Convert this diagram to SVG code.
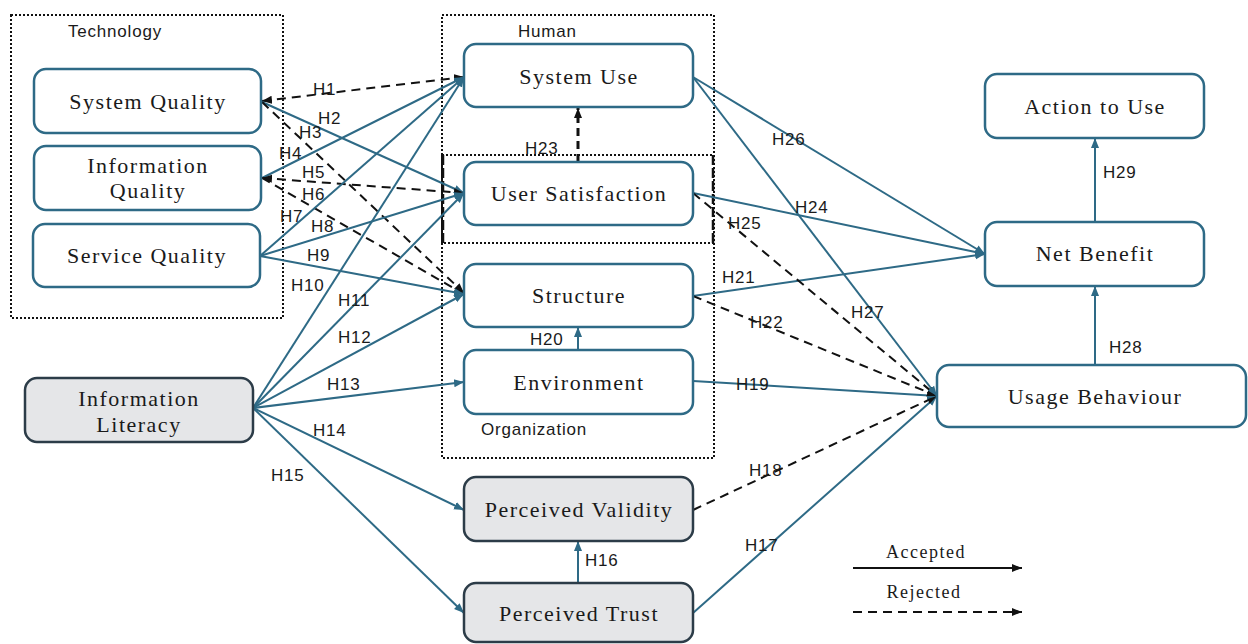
<svg xmlns="http://www.w3.org/2000/svg" width="1248" height="644" viewBox="0 0 1248 644">
<style>
.grp{fill:none;stroke:#111;stroke-width:2;stroke-dasharray:2 2}
.grpx{fill:none;stroke:#111;stroke-width:2.5;stroke-dasharray:10 3}
.nd{fill:#fff;stroke:#2e6a86;stroke-width:2.5}
.gy{fill:#e5e6e8;stroke:#2c3c48;stroke-width:2.5}
.nt{font-family:"Liberation Serif","Times New Roman",serif;font-size:22px;letter-spacing:1.5px;fill:#1a1a1a;text-anchor:middle}
.gl{font-family:"Liberation Sans",Arial,sans-serif;font-size:17px;letter-spacing:0.8px;fill:#1a1a1a}
.el{font-family:"Liberation Sans",Arial,sans-serif;font-size:17px;letter-spacing:0.8px;fill:#1a1a1a}
.lg{font-family:"Liberation Serif","Times New Roman",serif;font-size:18px;letter-spacing:1.5px;fill:#1a1a1a;text-anchor:middle}
.s{fill:none;stroke:#2e6a86;stroke-width:2;marker-end:url(#aT)}
.d{fill:none;stroke:#111;stroke-width:2;stroke-dasharray:9 6;marker-end:url(#aK)}
</style>
<defs>
<marker id="aT" viewBox="0 0 10 10" refX="10" refY="5" markerWidth="10" markerHeight="10" markerUnits="userSpaceOnUse" orient="auto-start-reverse"><path d="M0,1 L10,5 L0,9 z" fill="#2e6a86"/></marker>
<marker id="aK" viewBox="0 0 10 10" refX="10" refY="5" markerWidth="10" markerHeight="10" markerUnits="userSpaceOnUse" orient="auto-start-reverse"><path d="M0,1 L10,5 L0,9 z" fill="#111"/></marker>
</defs>
<rect width="1248" height="644" fill="#fff"/>

<g id="groups">
<rect class="grp" x="11" y="15" width="272" height="303"/>
<text class="gl" x="68" y="37">Technology</text>
<rect class="grp" x="442" y="15" width="272" height="228"/>
<text class="gl" x="518" y="37">Human</text>
<rect class="grp" x="442" y="155" width="272" height="303"/>
<line class="grpx" x1="443" y1="155" x2="443" y2="243"/>
<line class="grpx" x1="713" y1="155" x2="713" y2="243"/>
<text class="gl" x="481" y="435">Organization</text>
</g>

<g id="connectors">
<path class="d" d="M262,101 L464,77" marker-start="url(#aK)"/>
<path class="s" d="M262,102 L464,193"/>
<path class="d" d="M262,102 L464,293"/>
<path class="s" d="M262,178 L464,77"/>
<path class="d" d="M262,178 L464,193" marker-start="url(#aK)"/>
<path class="d" d="M262,178 L464,294"/>
<path class="s" d="M260,256 L464,77"/>
<path class="s" d="M260,256 L464,193"/>
<path class="s" d="M260,256 L464,294"/>
<path class="s" d="M253,408 L464,77"/>
<path class="s" d="M253,408 L464,193"/>
<path class="s" d="M253,408 L464,294"/>
<path class="s" d="M253,408 L464,382"/>
<path class="s" d="M253,408 L464,510"/>
<path class="s" d="M253,408 L464,613"/>
<path class="s" d="M578,583 L578,541"/>
<path class="s" d="M693,613 L937,396"/>
<path class="d" d="M693,510 L937,396"/>
<path class="s" d="M693,381 L937,396"/>
<path class="s" d="M578,350 L578,327"/>
<path class="s" d="M693,296 L985,254"/>
<path class="d" d="M693,296 L937,396"/>
<path class="d" d="M578,162 L578,108" style="stroke-width:3;stroke-dasharray:8 5"/>
<path class="s" d="M693,193 L985,254"/>
<path class="d" d="M693,193 L937,396"/>
<path class="s" d="M693,77 L985,254"/>
<path class="s" d="M693,77 L937,396"/>
<path class="s" d="M1095,365 L1095,286"/>
<path class="s" d="M1095,222 L1095,138"/>
</g>

<g id="edge-labels">
<text class="el" x="313" y="95">H1</text>
<text class="el" x="318" y="124">H2</text>
<text class="el" x="299" y="138">H3</text>
<text class="el" x="279" y="159">H4</text>
<text class="el" x="302" y="178">H5</text>
<text class="el" x="302" y="200">H6</text>
<text class="el" x="280" y="222">H7</text>
<text class="el" x="311" y="232">H8</text>
<text class="el" x="307" y="261">H9</text>
<text class="el" x="291" y="291">H10</text>
<text class="el" x="338" y="306">H11</text>
<text class="el" x="338" y="343">H12</text>
<text class="el" x="327" y="390">H13</text>
<text class="el" x="313" y="436">H14</text>
<text class="el" x="271" y="481">H15</text>
<text class="el" x="585" y="566">H16</text>
<text class="el" x="745" y="551">H17</text>
<text class="el" x="749" y="476">H18</text>
<text class="el" x="736" y="390">H19</text>
<text class="el" x="530" y="345">H20</text>
<text class="el" x="722" y="283">H21</text>
<text class="el" x="750" y="328">H22</text>
<text class="el" x="525" y="154">H23</text>
<text class="el" x="795" y="213">H24</text>
<text class="el" x="728" y="229">H25</text>
<text class="el" x="772" y="145">H26</text>
<text class="el" x="851" y="318">H27</text>
<text class="el" x="1109" y="353">H28</text>
<text class="el" x="1103" y="178">H29</text>
</g>

<g id="system-quality"><rect class="nd" x="34" y="69" width="227" height="64" rx="12"/><text class="nt" x="148" y="109">System Quality</text></g>
<g id="information-quality"><rect class="nd" x="34" y="146" width="227" height="64" rx="12"/><text class="nt" x="148" y="173">Information</text><text class="nt" x="148" y="198">Quality</text></g>
<g id="service-quality"><rect class="nd" x="33" y="224" width="227" height="63" rx="12"/><text class="nt" x="147" y="263">Service Quality</text></g>
<g id="information-literacy"><rect class="gy" x="25" y="378" width="228" height="64" rx="12"/><text class="nt" x="139" y="406">Information</text><text class="nt" x="139" y="432">Literacy</text></g>
<g id="system-use"><rect class="nd" x="464" y="44" width="229" height="63" rx="12"/><text class="nt" x="579" y="84">System Use</text></g>
<g id="user-satisfaction"><rect class="nd" x="464" y="162" width="229" height="63" rx="12"/><text class="nt" x="579" y="201">User Satisfaction</text></g>
<g id="structure"><rect class="nd" x="464" y="264" width="229" height="63" rx="12"/><text class="nt" x="579" y="303">Structure</text></g>
<g id="environment"><rect class="nd" x="464" y="350" width="229" height="64" rx="12"/><text class="nt" x="579" y="390">Environment</text></g>
<g id="perceived-validity"><rect class="gy" x="464" y="477" width="229" height="64" rx="12"/><text class="nt" x="579" y="517">Perceived Validity</text></g>
<g id="perceived-trust"><rect class="gy" x="464" y="583" width="229" height="59" rx="12"/><text class="nt" x="579" y="621">Perceived Trust</text></g>
<g id="action-to-use"><rect class="nd" x="985" y="74" width="219" height="64" rx="12"/><text class="nt" x="1095" y="114">Action to Use</text></g>
<g id="net-benefit"><rect class="nd" x="985" y="222" width="219" height="64" rx="12"/><text class="nt" x="1095" y="261">Net Benefit</text></g>
<g id="usage-behaviour"><rect class="nd" x="937" y="365" width="309" height="62" rx="12"/><text class="nt" x="1095" y="404">Usage Behaviour</text></g>

<g id="legend">
<text class="lg" x="926" y="558">Accepted</text>
<path d="M853,568 L1022,568" fill="none" stroke="#111" stroke-width="2" marker-end="url(#aK)"/>
<text class="lg" x="924" y="598">Rejected</text>
<path d="M853,612 L1022,612" fill="none" stroke="#111" stroke-width="2" stroke-dasharray="9 6" marker-end="url(#aK)"/>
</g>
</svg>
